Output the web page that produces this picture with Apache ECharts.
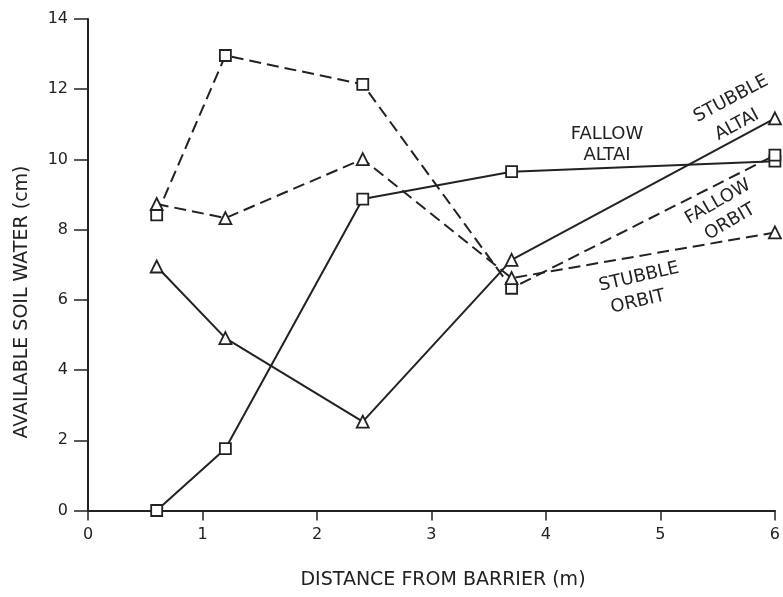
<!DOCTYPE html>
<html><head><meta charset="utf-8">
<script src="https://cdn.jsdelivr.net/npm/echarts@6/dist/echarts.min.js"></script>
<style>html,body{margin:0;padding:0;background:#fff}#c{width:783px;height:597px}</style>
</head><body><div id="c"></div>
<script>
const distances = [0.6, 1.2, 2.4, 3.7, 6.0];
const fallowAltai = [0.0, 1.76, 8.87, 9.65, 9.95];
const stubbleAltai = [6.95, 4.91, 2.53, 7.14, 11.17];
const fallowOrbit = [8.42, 12.96, 12.14, 6.33, 10.12];
const stubbleOrbit = [8.73, 8.33, 10.01, 6.62, 7.92];
const xTicks = [0, 1, 2, 3, 4, 5, 6];
const yTicks = [0, 2, 4, 6, 8, 10, 12, 14];

const ink = '#222';
const font = 'DejaVu Sans';
function pts(ys){ return distances.map((x,i)=>[x, ys[i]]); }
function ser(name, ys, sym, dashed){
  return {
    name, type:'line', data: pts(ys), symbol: sym, symbolSize: sym==='rect'?11:12,
    showAllSymbol:true, clip:false,
    itemStyle:{color:'#fff', borderColor:ink, borderWidth:1.8},
    lineStyle:{color:ink, width:2, type: dashed?[12,6]:'solid'},
    emphasis:{disabled:true}, z: 3
  };
}
function lbl(text, x, y, deg, size){
  return {type:'text', x, y, rotation: deg*Math.PI/180,
    style:{text, fill:ink, font: (size||15)+'px "'+font+'"', textAlign:'center', textVerticalAlign:'middle'}};
}
const chart = echarts.init(document.getElementById('c'), null, {renderer:'canvas'});
chart.setOption({
  animation:false,
  backgroundColor:'#fff',
  grid:{left:88, right:5, top:19, bottom:86.5, containLabel:false},
  xAxis:{type:'value', min:0, max:6, interval:1,
    axisLine:{onZero:false, lineStyle:{color:ink, width:2}},
    axisTick:{show:true, inside:false, length:10, lineStyle:{color:ink, width:1.5}},
    axisLabel:{color:ink, fontFamily:font, fontSize:16, margin:16,
      formatter:v=> xTicks.includes(v)? String(v):''},
    splitLine:{show:false}},
  yAxis:{type:'value', min:0, max:14, interval:2,
    axisLine:{show:true, lineStyle:{color:ink, width:2}},
    axisTick:{show:true, length:14, lineStyle:{color:ink, width:1.5}},
    axisLabel:{color:ink, fontFamily:font, fontSize:16, margin:20,
      formatter:v=> yTicks.includes(v)? String(v):''},
    splitLine:{show:false}},
  series:[
    ser('Fallow Altai', fallowAltai, 'rect', false),
    ser('Stubble Altai', stubbleAltai, 'triangle', false),
    ser('Fallow Orbit', fallowOrbit, 'rect', true),
    ser('Stubble Orbit', stubbleOrbit, 'triangle', true)
  ],
  graphic:[
    lbl('AVAILABLE SOIL WATER (cm)', 22, 302, 90, 19),
    lbl('DISTANCE FROM BARRIER (m)', 443, 580, 0, 19),
    lbl('FALLOW', 607, 134, 0, 18),
    lbl('ALTAI', 607, 155, 0, 18),
    lbl('STUBBLE', 731, 99, 28, 18),
    lbl('ALTAI', 737, 125, 28, 18),
    lbl('FALLOW', 718, 202, 30, 18),
    lbl('ORBIT', 730, 222, 30, 18),
    lbl('STUBBLE', 639, 277, 13, 18),
    lbl('ORBIT', 638, 302, 13, 18)
  ]
});
</script></body></html>
